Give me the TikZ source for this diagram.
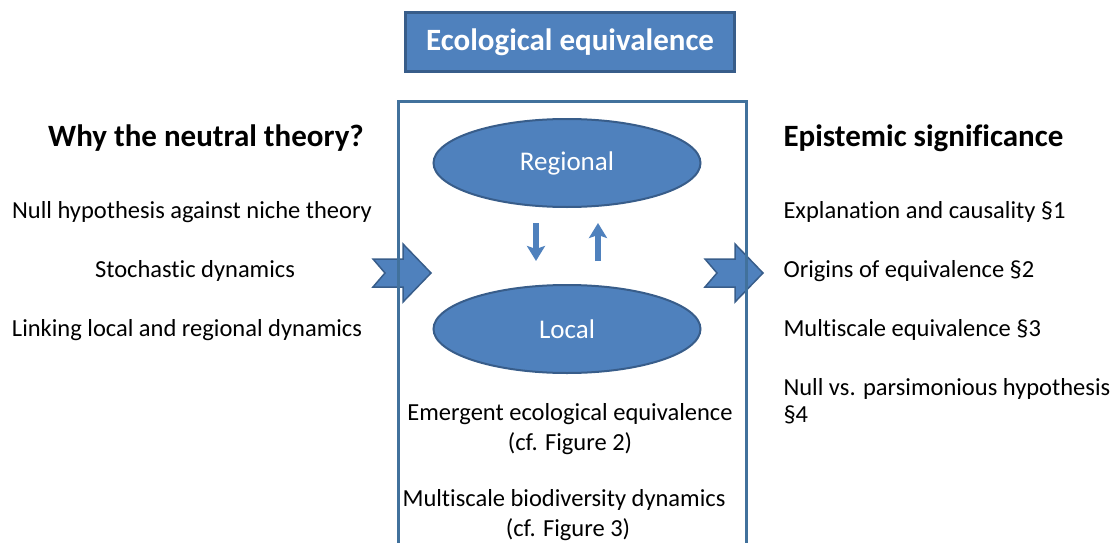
\documentclass[tikz,border=0pt]{standalone}
\usepackage{fontspec}
\setmainfont{Carlito}[Ligatures=NoCommon]
\usetikzlibrary{shapes,calc,positioning,arrows.meta}
\definecolor{boxblue}{HTML}{4F81BD}
\definecolor{edgeblue}{HTML}{385D8A}
\definecolor{frameblue}{HTML}{41719C}

\begin{document}
\begin{tikzpicture}[x=1pt,y=-1pt]
  \tikzset{ ell/.style={ellipse,fill=boxblue,draw=edgeblue,line width=2pt,minimum width=267pt,minimum height=88pt,text=white,font=\fontsize{27}{33}\selectfont},
    ttl/.style={rectangle,fill=boxblue,draw=edgeblue,line width=2.5pt,minimum width=329pt,minimum height=59pt,text=white,font=\bfseries\fontsize{31}{37}\selectfont},
    hd/.style={font=\bfseries\fontsize{31}{37}\selectfont,anchor=base},
    txt/.style={font=\fontsize{24.5}{30}\selectfont,anchor=base},
    chev/.style={fill=boxblue,draw=edgeblue,line width=1.5pt,line join=miter},
    vert/.style={draw=boxblue,line width=5.5pt,-{Stealth[length=15pt,width=18pt,inset=3pt]}},
  }
  \useasboundingbox (0,0) rectangle (1114,543);
  \clip (0,0) rectangle (1114,543);

  \node[ttl] (title) at (570,42) {Ecological equivalence};

  % the two chevrons, under the frame
  \foreach \x in {373,705}
    \draw[chev] (\x,259) -- ++(30,0) -- ++(0,-15) -- ++(28,29) -- ++(-28,29) -- ++(0,-15) -- ++(-30,0) -- ++(12,-14) -- cycle;

  \node[draw=frameblue,line width=3pt,minimum width=348pt,minimum height=500pt,anchor=north] (frame) at (572,100) {};

  \node[ell] (regional) at (567,163) {Regional};
  \node[ell] (local) at (567,329) {Local};
  \draw[vert] ([shift={(-31,15)}]regional.south) -- ([shift={(-31,-23)}]local.north);
  \draw[vert] ([shift={(31,-23)}]local.north) -- ([shift={(31,15)}]regional.south);

  % left column
  \node[hd] (why) at (206,146) {Why the neutral theory?};
  \node[txt] (null) at (192,218) {Null hypothesis against niche theory};
  \node[txt] (stoch) at (195,277) {Stochastic dynamics};
  \node[txt] (link) at (187,336) {Linking local and regional dynamics};

  % centre
  \node[txt] (emerg) at (570,420) {Emergent ecological equivalence};
  \node[txt] (fig2) at (570,450) {(cf. Figure 2)};
  \node[txt] (multi) at (564,506) {Multiscale biodiversity dynamics};
  \node[txt] (fig3) at (568,536) {(cf. Figure 3)};

  % right column
  \node[hd,anchor=base west] (epi) at (780,146) {Epistemic significance};
  \node[txt,anchor=base west] (expl) at (780,218) {Explanation and causality §1};
  \node[txt,anchor=base west] (orig) at (780,277) {Origins of equivalence §2};
  \node[txt,anchor=base west] (mscale) at (780,336) {Multiscale equivalence §3};
  \node[txt,anchor=base west] (nullvs) at (780,395) {Null vs. parsimonious hypothesis};
  \node[txt,anchor=base west] (par4) at (780,422) {§4};
\end{tikzpicture}
\end{document}
